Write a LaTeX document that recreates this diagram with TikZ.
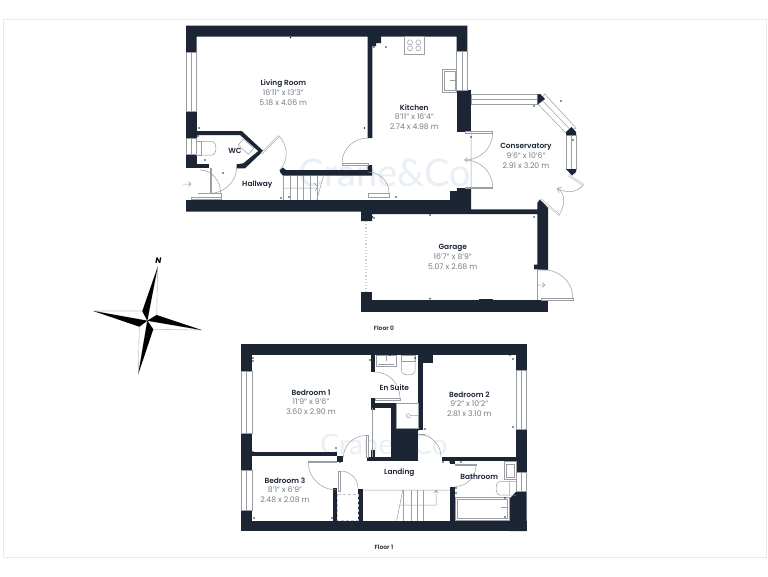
\documentclass[tikz,border=0pt]{standalone}
\usepackage{fontspec}
\setmainfont{Poppins}
\newfontfamily\titlefont{Poppins SemiBold}
\newfontfamily\markfont{Lato}
\definecolor{wallblue}{HTML}{1B2533}
\definecolor{linegrey}{HTML}{9A9DA1}
\definecolor{dimgrey}{HTML}{777B80}
\definecolor{framegrey}{HTML}{E9E9E9}
\definecolor{markblue}{HTML}{E9EFF4}
\newcommand{\wall}[4]{\fill[wallblue] (#1,-#2) rectangle (#3,-#4);}
\newcommand{\window}[4]{\draw[linegrey,fill=white,line width=.5pt] (#1,-#2) rectangle (#3,-#4);}
\newcommand{\leaf}[4]{\draw[linegrey,fill=white,line width=.5pt] (#1,-#2) rectangle (#3,-#4);}
\newcommand{\swing}[6]{\draw[linegrey,line width=.5pt] (#1,-#2) to[out=#5,in=#6] (#3,-#4);}
\newcommand{\room}[6]{\node[font=\titlefont\fontsize{7.4}{8}\selectfont,text=wallblue] (#1) at (#2,-#3-.7) {#4};
  \node[font=\fontsize{7.7}{8}\selectfont,text=dimgrey] (#1a) at (#2,-#3-9.8) {#5};
  \node[font=\fontsize{7.7}{8}\selectfont,text=dimgrey] (#1b) at (#2,-#3-19.6) {#6};}
\begin{document}
\begin{tikzpicture}[x=1pt,y=1pt]
    \useasboundingbox (0,0) rectangle (768,-576);
    \fill[white] (0,0) rectangle (768,-576);
    \draw[framegrey,line width=1pt] (3.5,-19) rectangle (766,-557);
    \node[font=\markfont\fontsize{38}{40}\selectfont,text=markblue] (mark0) at (385,-173) {Crane\&Co};
    \node[font=\markfont\fontsize{28}{30}\selectfont,text=markblue] (mark1) at (384,-444) {Crane\&Co};

    % floor 0
    \fill[wallblue] (186,-25.7) -- (467.3,-25.7) -- (467.3,-51) -- (456.7,-51) -- (456.7,-36.7) -- (381,-36.7) -- (381,-43) -- (376,-43) -- (376,-46) -- (372.3,-46) -- (372.3,-138) -- (367.7,-138) -- (367.7,-36.7) -- (196.7,-36.7) -- (196.7,-52) -- (186,-52) -- cycle;
    \wall{186}{111}{196.7}{138}
    \fill[wallblue] (196.7,-131) -- (241.7,-131) -- (263.3,-151) -- (245,-168.3) -- (236.7,-168.3) -- (236.7,-164.3) -- (243.3,-163.3) -- (258.3,-151) -- (240,-135) -- (196.7,-135) -- cycle;
    \wall{186}{154.3}{196.7}{168.3}
    \wall{196}{164.3}{209.3}{168.3}
    \fill[wallblue] (280,-169.3) -- (283,-167.7) -- (286,-170) -- (367.7,-170) -- (367.7,-165) -- (372,-165) -- (372,-175.7) -- (283,-175.7) -- (280,-172) -- cycle;
    \wall{456.7}{90}{471}{131.7}
    \fill[wallblue] (186,-200) -- (450,-200) -- (450,-191) -- (457,-191) -- (457,-188) -- (471,-188) -- (471,-209.3) -- (537.3,-209.3) -- (537.3,-203) -- (540,-199.3) -- (548,-208) -- (548,-270) -- (537.3,-270) -- (537.3,-269.3) -- (534,-269.3) -- (534,-264.7) -- (537.3,-264.7) -- (537.3,-214) -- (372,-214) -- (372,-221) -- (361,-221) -- (361,-211.7) -- (186,-211.7) -- cycle;
    \wall{361}{291.7}{372}{311.7}
    \wall{372}{300}{547.7}{311.7}
    \wall{479}{298.7}{493}{300}

    \window{186}{52}{196.7}{111} \draw[linegrey,line width=.5pt] (191,-52) -- (191,-111);
    \window{186}{138.3}{196.7}{154.3} \draw[linegrey,line width=.5pt] (191,-138.3) -- (191,-154.3);
    \window{456.7}{51}{467.3}{90} \draw[linegrey,line width=.5pt] (462,-51) -- (462,-90);
    \window{471}{94}{537.7}{104} \draw[linegrey,line width=.5pt] (471,-99) -- (537.7,-99);
    \window{566}{135}{576}{169} \draw[linegrey,line width=.5pt] (571,-135) -- (571,-169);
    \draw[linegrey,fill=white,line width=.5pt] (544.7,-94) -- (576,-128) -- (566,-133) -- (537.7,-104) -- cycle;
    \draw[linegrey,line width=.5pt] (541,-99) -- (571,-130.5);
    \fill[wallblue] (537.7,-94) -- (540,-94) -- (545,-99) -- (537.7,-104.5) -- cycle;
    \fill[wallblue] (566,-135) -- (566,-132) -- (571.5,-127) -- (576,-132) -- (576,-135) -- cycle;
    \fill[wallblue] (566,-169) -- (576,-169) -- (576,-172) -- (572,-175.5) -- cycle;
    \draw[linegrey!50,dotted,line width=1.2pt] (366,-221) -- (366,-291.7);

    % doors floor 0
    \leaf{342}{163}{368}{165} \swing{342}{163}{368}{138}{90}{180}
    \leaf{368}{193}{389}{197} \swing{389}{193}{368}{172}{90}{0}
    \leaf{465}{131.7}{492.7}{133} \swing{492.7}{133}{465}{160}{-90}{0}
    \leaf{465}{187}{492.7}{188.3} \swing{492.7}{187}{465}{160}{90}{0}
    \draw[linegrey,line width=.5pt] (471,-132) -- (471,-188) (467.5,-157.5) -- (464.5,-160) -- (467.5,-162);
    \draw[linegrey,double=white,double distance=1pt,line width=.4pt] (568.3,-175) -- (583.3,-185);
    \draw[linegrey,double=white,double distance=1pt,line width=.4pt] (540.7,-199.3) -- (559.3,-215);
    \swing{583.3}{185}{557.3}{188.3}{-130}{-30}
    \swing{559.3}{215}{557.3}{188.3}{60}{-30}
    \draw[linegrey,line width=.5pt] (562,-187) -- (557.3,-188.3) -- (559,-193);
    \draw[linegrey,double=white,double distance=1pt,line width=.4pt] (261.7,-153.3) -- (279,-136);
    \swing{279}{136}{279}{171}{-45}{45}
    \leaf{210}{168.3}{211.7}{193.3} \swing{210}{193.3}{236.7}{166.7}{0}{-90}
    \swing{200}{170}{220.7}{193.3}{0}{90}
    \leaf{191.7}{197}{221.7}{199.5}
    \draw[linegrey,line width=.5pt] (198,-193.5) -- (221.7,-193.5) -- (221.7,-197);
    \draw[linegrey,line width=.5pt] (183,-184) -- (191,-184) (188.5,-181.5) -- (191,-184) -- (188.5,-186.5);
    \draw[linegrey,fill=white,line width=.5pt] (537.3,-269.3) -- (537.3,-300);
    \leaf{541.7}{298}{573.3}{300.7}
    \swing{572.7}{298}{548}{270}{90}{-10}
    \draw[linegrey,line width=.5pt] (537.3,-269.5) -- (548,-270) (538,-285) -- (545,-285) (542,-282.5) -- (545,-285) -- (542,-287.5);

    % fittings floor 0
    \leaf{404.3}{36.7}{424.7}{54.3}
    \foreach \cx/\cy in {410/42.3,418.3/42.3,410/48.3,418.3/48.3} {\draw[linegrey,line width=.5pt] (\cx,-\cy) circle (2.5);}
    \leaf{442.3}{69}{456.7}{92.3} \draw[linegrey,line width=.5pt] (444,-71) rectangle (455,-90.5) (450,-80) -- (456.7,-80);
    \leaf{196.7}{141.7}{201.5}{155}
    \draw[linegrey,line width=.5pt] (201.5,-141.7) -- (212,-141.7) to[out=0,in=0] (212,-155) -- (201.5,-155);
    \draw[linegrey,fill=white,line width=.5pt] (243.3,-139) -- (254,-148.3) -- (248.3,-154.3) -- (238.3,-145) -- cycle;
    \foreach \sx in {283.3,290,296.7,303.3,310,316.7} {\draw[linegrey,line width=.4pt] (\sx,-175.7) -- (\sx,-200);}
    \draw[linegrey,line width=.5pt] (283.3,-188) -- (316.7,-188) (323.5,-176) -- (316.7,-200) (314,-183) -- (318,-187) -- (315,-191);

    % floor 1
    \wall{241}{344.3}{526.7}{355}
    \wall{241}{344.3}{252.3}{371}
    \wall{241}{433.3}{252.3}{470}
    \wall{241}{510}{252.3}{531}
    \wall{241}{520.7}{526.7}{531}
    \wall{516}{344.3}{526.7}{370}
    \wall{516}{429.3}{526.7}{472.7}
    \fill[wallblue] (516,-491.7) -- (526.7,-491.7) -- (526.7,-531) -- (509.3,-531) -- (509.3,-499) -- cycle;
    \wall{252}{451.7}{336.7}{456}
    \wall{336.7}{456}{343.3}{461.7}
    \wall{366.7}{456.7}{418.3}{460.7}
    \wall{370.7}{450}{375}{457}
    \wall{391}{428}{418.3}{457}
    \wall{391}{403.3}{396}{428}
    \wall{370.7}{403.3}{396}{408}
    \wall{370.7}{398}{375}{410}
    \wall{370.7}{355}{375}{371.7}
    \wall{418.3}{355}{423.3}{430}
    \wall{423}{355}{433}{362.7}
    \wall{441.7}{456.7}{516}{460.7}
    \wall{450}{460.7}{455}{464}
    \wall{333.3}{488.3}{337.3}{520.7}
    \wall{358.3}{489}{363.3}{520.7}
    \wall{450}{487}{455}{520.7}

    \window{241}{371}{252.3}{433.3} \draw[linegrey,line width=.5pt] (246.5,-371) -- (246.5,-433.3);
    \window{241}{470}{252.3}{510} \draw[linegrey,line width=.5pt] (246.5,-470) -- (246.5,-510);
    \window{516}{370}{526.7}{429.3} \draw[linegrey,line width=.5pt] (521.5,-370) -- (521.5,-429.3);
    \window{516}{472.7}{526.7}{491.7} \draw[linegrey,line width=.5pt] (521.5,-472.7) -- (521.5,-491.7);

    % doors floor 1
    \leaf{366}{435.5}{368.5}{457}  \swing{366}{435.5}{343.5}{457}{180}{90}
    \leaf{375}{398}{400}{400}  \swing{375}{372}{400}{398}{0}{90}
    \swing{418.3}{434.5}{441}{456.7}{0}{90}
    \draw[linegrey,line width=.5pt] (418.3,-434.5) -- (425,-434.5);
    \leaf{455}{464}{476}{465.3} \swing{476}{465.3}{455}{486.5}{-90}{0}
    \leaf{308.3}{461.7}{336.7}{462.7} \swing{308.3}{462.7}{336.7}{490}{-90}{180}
    \leaf{338.3}{471.7}{340.3}{491.7} \swing{340.3}{471}{358}{488.3}{0}{90}
    \draw[linegrey!60,densely dashed,line width=.4pt] (337.3,-494) rectangle (358.3,-520);
    \draw[linegrey,line width=.5pt] (372.5,-408) -- (372.5,-456.7);

    % fittings floor 1
    \leaf{376}{355.7}{396}{366.7} \draw[linegrey,line width=.5pt] (378,-364.5) -- (394,-364.5) (386,-355.7) -- (386,-361);
    \draw[linegrey,fill=white,line width=.5pt] (401.7,-355) rectangle (415,-361);
    \draw[linegrey,line width=.5pt] (401.7,-361) -- (401.7,-371) to[out=-90,in=-90] (415,-371) -- (415,-361);
    \leaf{396}{403.3}{418.3}{428.3}
    \draw[linegrey,line width=.5pt] (408.3,-415.7) circle (2) (410.3,-415.7) -- (418.3,-415.7);
    \leaf{455.7}{497.7}{509}{520}
    \draw[linegrey,line width=.5pt] (457,-499.5) rectangle (507.5,-518.5) (501,-507.5) -- (507.5,-507.5);
    \leaf{504}{461.7}{516}{479} \draw[linegrey,line width=.5pt] (506,-464) rectangle (514,-477);
    \draw[linegrey,line width=.5pt] (516,-481.7) -- (500,-481.7) to[out=180,in=180] (500,-495) -- (516,-495) (509.5,-481.7) -- (509.5,-495);
    \draw[linegrey,line width=.5pt] (363.3,-490) -- (450,-490) (402.7,-490) -- (396.7,-520.7) (399.5,-505) -- (436,-505) -- (436,-490) (433.5,-493) -- (436,-490.5) -- (438.5,-493);
    \foreach \sx in {402.7,410.7,416.7,423.3} {\draw[linegrey,line width=.4pt] (\sx,-490) -- (\sx,-520.7);}

    % small marks
    \foreach \mx/\my in {290.5/37.5,199/128,364.5/128,379/38,374/47,386/47,471/137,534/106,561/101,573/140,534.5/211,372.5/217,430/215,534/217,374/218,430/298.7,198/136,194/131,205/160,223/173,281/198,289/197,370/212,396/197,253/358,253/361,370/360,253/452,336/448,340/462,254/518,332/518,415/358,418/430,425/429,513/427,513/359,510/355,443/462,450/462,461/462,456/488,456/493,505/517,505/498,390/355} {\fill[wallblue] (\mx,-\my) circle (.8);}

    % compass
    \fill[white] (147.3,-320.7) circle (1);
    \draw[linegrey!60,fill=white,line width=.6pt] (157.7,-266.7) -- (156.7,-315) -- (147.3,-320.7) -- cycle;
    \draw[linegrey!60,fill=white,line width=.6pt] (201.7,-330) -- (153.3,-329.3) -- (147.3,-320.7) -- cycle;
    \draw[linegrey!60,fill=white,line width=.6pt] (138.3,-374) -- (139.3,-326.7) -- (147.3,-320.7) -- cycle;
    \draw[linegrey!60,fill=white,line width=.6pt] (93.3,-311) -- (142.3,-311) -- (147.3,-320.7) -- cycle;
    \fill[black] (157.7,-266.7) -- (142.3,-311) -- (147.3,-320.7) -- cycle;
    \fill[black] (201.7,-330) -- (156.7,-315) -- (147.3,-320.7) -- cycle;
    \fill[black] (138.3,-374) -- (153.3,-329.3) -- (147.3,-320.7) -- cycle;
    \fill[black] (93.3,-311) -- (139.3,-326.7) -- (147.3,-320.7) -- cycle;
    \node[font=\fontsize{8}{9}\selectfont\bfseries\itshape,text=black] (north) at (158.3,-260.7) {N};

    % labels
    \room{living}{283.3}{82.7}{Living Room}{16'11" x 13'3"}{5.18 x 4.06 m}
    \room{kitchen}{414.3}{107.3}{Kitchen}{8'11" x 16'4"}{2.74 x 4.98 m}
    \room{conservatory}{526}{145.7}{Conservatory}{9'6" x 10'6"}{2.91 x 3.20 m}
    \room{garage}{452.7}{246.7}{Garage}{16'7" x 8'9"}{5.07 x 2.68 m}
    \room{bedone}{311}{391.7}{Bedroom 1}{11'9" x 9'6"}{3.60 x 2.90 m}
    \room{bedthree}{285}{480}{Bedroom 3}{8'1" x 6'9"}{2.48 x 2.08 m}
    \room{bedtwo}{469.3}{394.3}{Bedroom 2}{9'2" x 10'2"}{2.81 x 3.10 m}
    \tikzset{tag/.style={font=\titlefont\fontsize{7.4}{8}\selectfont,text=wallblue},floor/.style={font=\titlefont\fontsize{6}{7}\selectfont,text=wallblue}}
    \node[tag] (wc) at (235,-150.7) {WC};
    \node[tag] (hallway) at (257.3,-185) {Hallway};
    \node[tag] (ensuite) at (394.3,-387.7) {En Suite};
    \node[tag] (landing) at (399.3,-472.7) {Landing};
    \node[tag] (bathroom) at (479.3,-476.4) {Bathroom};
    \node[floor] (floor0) at (384,-328) {Floor 0};
    \node[floor] (floor1) at (384,-547.6) {Floor 1};
\end{tikzpicture}
\end{document}
